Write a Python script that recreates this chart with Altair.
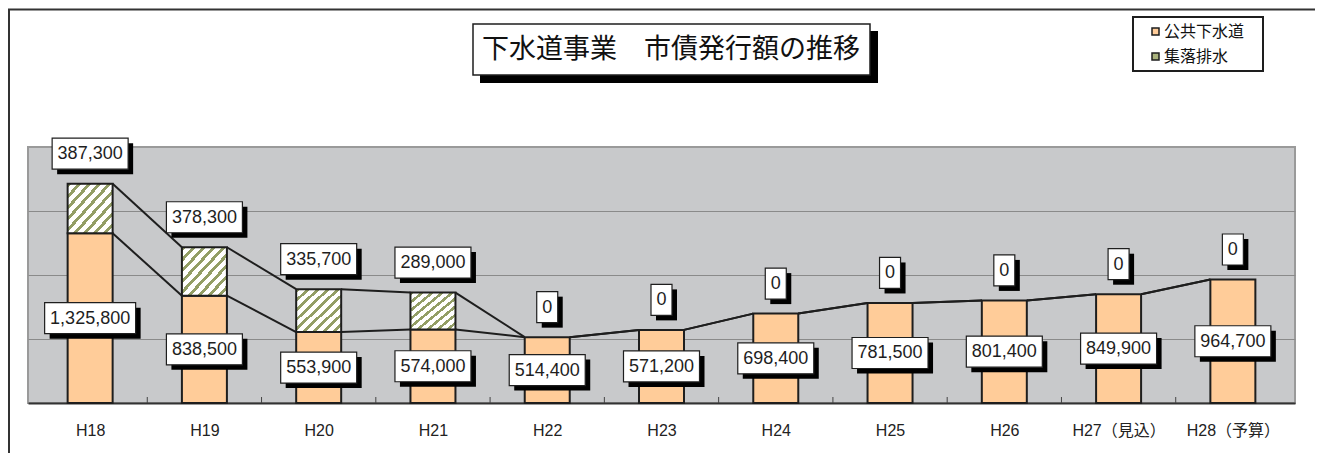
import json
import altair as alt
import pandas as pd

# ---------------- data ----------------
categories = ["H18", "H19", "H20", "H21", "H22", "H23", "H24", "H25", "H26", "H27（見込）", "H28（予算）"]
koukyou = [1325800, 838500, 553900, 574000, 514400, 571200, 698400, 781500, 801400, 849900, 964700]
shuraku = [387300, 378300, 335700, 289000, 0, 0, 0, 0, 0, 0, 0]
series_names = ["公共下水道", "集落排水"]
chart_title = "下水道事業　市債発行額の推移"
y_max = 2000000
grid_values = [500000, 1000000, 1500000]

# ---------------- style ----------------
W, H = 1267, 256
BAR_W = 45
FONT_JP = "Noto Sans CJK JP"
FONT_NUM = "Liberation Sans"
FONT_AXIS = "Liberation Sans, Noto Sans CJK JP"
LABEL_FS = 18
ORANGE = "#FFCC99"
GREEN = "#939E66"
INK = "#1E1E1E"
TOP_LABEL_OFF = -30

n = len(categories)
df = pd.DataFrame({"idx": list(range(n)), "cat": categories, "v1": koukyou, "v2": shuraku})
df["top"] = df["v1"] + df["v2"]
df["mid1"] = df["v1"] / 2


def box_path(text):
    w = sum(0.278 if ch == "," else 0.556 for ch in text) * LABEL_FS + 11
    h = 31
    return f"M{-w/2:.1f},{-h/2:.1f}H{w/2:.1f}V{h/2:.1f}H{-w/2:.1f}Z"


df["lab1"] = [f"{v:,}" for v in koukyou]
df["lab2"] = [f"{v:,}" for v in shuraku]
df["box1"] = df["lab1"].map(box_path)
df["box2"] = df["lab2"].map(box_path)

seg = pd.DataFrame({
    "a": df["idx"].values[:-1], "b": df["idx"].values[1:],
    "y1a": df["v1"].values[:-1], "y1b": df["v1"].values[1:],
    "yta": df["top"].values[:-1], "ytb": df["top"].values[1:],
})
bounds = pd.DataFrame({"b": [i + 0.5 for i in range(n - 1)]})

# ---------------- scales / axes ----------------
xscale = alt.Scale(domain=[-0.5, n - 0.5], nice=False, zero=False)
xaxis = alt.Axis(values=list(range(n)),
                 labelExpr=f"{json.dumps(categories, ensure_ascii=False)}[datum.value]",
                 title=None, ticks=False, grid=False, domainColor="#333333", domainWidth=2,
                 labelFont=FONT_AXIS, labelFontSize=16, labelColor="#222222", labelPadding=19,
                 labelFlush=False, labelOverlap=False)
yscale = alt.Scale(domain=[0, y_max], nice=False)
yaxis = alt.Axis(values=grid_values, labels=False, ticks=False, domain=False, grid=True,
                 gridColor="#8A8A8A", gridWidth=1, title=None)


def X(f):
    return alt.X(f"{f}:Q", scale=xscale, axis=xaxis)


def Y(f):
    return alt.Y(f"{f}:Q", scale=yscale, axis=yaxis)


# green diagonal hatch via striped gradient
stops = []
periods = 9
for k in range(periods):
    s = round(k / periods, 4)
    m = round(s + 0.4 / periods, 4)
    e = round((k + 1) / periods, 4)
    stops += [{"offset": s, "color": GREEN}, {"offset": m, "color": GREEN},
              {"offset": m, "color": "#FFFFFF"}, {"offset": e, "color": "#FFFFFF"}]
hatch = {"gradient": "linear", "x1": 0, "y1": 0, "x2": 1, "y2": 1, "stops": stops}

base = alt.Chart(df)

bars1 = base.mark_bar(size=BAR_W, fill=ORANGE, stroke=INK, strokeWidth=2, orient="vertical").encode(
    x=X("idx"), y=Y("v1"), y2=alt.datum(0))
bars2 = alt.Chart(df[df["v2"] > 0]).mark_bar(size=BAR_W, fill=hatch, stroke=INK, strokeWidth=2,
                                             orient="vertical").encode(
    x=X("idx"), y=Y("top"), y2="v1")

lines1 = alt.Chart(seg).mark_rule(stroke=INK, strokeWidth=2, xOffset=BAR_W / 2, x2Offset=-BAR_W / 2).encode(
    x=X("a"), x2="b", y=Y("y1a"), y2="y1b")
lines2 = alt.Chart(seg).mark_rule(stroke=INK, strokeWidth=2, xOffset=BAR_W / 2, x2Offset=-BAR_W / 2).encode(
    x=X("a"), x2="b", y=Y("yta"), y2="ytb")

ticks = alt.Chart(bounds).mark_rule(stroke="#444444", strokeWidth=1).encode(
    x=X("b"), y=alt.value(H - 6), y2=alt.value(H))


def label_layers(yfield, boxfield, textfield, yoff):
    shadow = base.mark_point(filled=True, color="#000000", size=4, opacity=1,
                             xOffset=5, yOffset=yoff + 5).encode(
        x=X("idx"), y=Y(yfield), shape=alt.Shape(f"{boxfield}:N", scale=None, legend=None))
    box = base.mark_point(filled=True, color="#FFFFFF", stroke=INK, strokeWidth=1.2, size=4, opacity=1,
                          yOffset=yoff).encode(
        x=X("idx"), y=Y(yfield), shape=alt.Shape(f"{boxfield}:N", scale=None, legend=None))
    txt = base.mark_text(font=FONT_NUM, fontSize=LABEL_FS, color=INK, baseline="middle", align="center",
                         yOffset=yoff + 0.5).encode(
        x=X("idx"), y=Y(yfield), text=f"{textfield}:N")
    return [shadow, box, txt]


labels1 = label_layers("mid1", "box1", "lab1", 0)
labels2 = label_layers("top", "box2", "lab2", TOP_LABEL_OFF)

# ---------------- title box ----------------
tdf = alt.Chart(pd.DataFrame({"t": [chart_title]}))
title_shadow = tdf.mark_rect(fill="#000000").encode(
    x=alt.value(452), x2=alt.value(850), y=alt.value(-116), y2=alt.value(-64))
title_box = tdf.mark_rect(fill="#FFFFFF", stroke=INK, strokeWidth=1.5).encode(
    x=alt.value(445), x2=alt.value(842), y=alt.value(-123), y2=alt.value(-72))
title_text = tdf.mark_text(font=FONT_JP, fontSize=27, color="#111111", align="center", baseline="middle").encode(
    x=alt.value(643), y=alt.value(-97), text="t:N")

# ---------------- legend ----------------
legend_layers = []
ldf = alt.Chart(pd.DataFrame({"s": series_names}))
legend_layers.append(ldf.mark_rect(fill="#FFFFFF", stroke=INK, strokeWidth=2).encode(
    x=alt.value(1105), x2=alt.value(1235), y=alt.value(-130), y2=alt.value(-76)))
for i, (name, col) in enumerate(zip(series_names, [ORANGE, "#A9B27C"])):
    ly = -115.5 + i * 25
    one = alt.Chart(pd.DataFrame({"s": [name]}))
    legend_layers.append(one.mark_rect(fill=col, stroke=INK, strokeWidth=1.5).encode(
        x=alt.value(1124), x2=alt.value(1131), y=alt.value(ly - 3.5), y2=alt.value(ly + 3.5)))
    legend_layers.append(one.mark_text(font=FONT_JP, fontSize=16, color="#111111", align="left",
                                       baseline="middle").encode(
        x=alt.value(1136), y=alt.value(ly), text="s:N"))

# ---------------- outer frame ----------------
frame_top = tdf.mark_rule(stroke="#333333", strokeWidth=2).encode(
    x=alt.value(-20), x2=alt.value(W + 20), y=alt.value(-137.5))
frame_left = tdf.mark_rule(stroke="#333333", strokeWidth=2).encode(
    x=alt.value(-19), y=alt.value(-137.5), y2=alt.value(H + 50))

chart = alt.layer(
    bars1, bars2, lines1, lines2, ticks,
    *labels1, *labels2,
    title_shadow, title_box, title_text,
    *legend_layers,
    frame_top, frame_left,
).properties(
    width=W, height=H,
    padding={"left": 20, "top": 139, "right": 20, "bottom": 50},
    autosize=alt.AutoSizeParams(type="none"),
).configure_view(fill="#C8C9CB", stroke="#9A9A9A", strokeWidth=2)

chart.save("out.html", embed_options={"renderer": "svg", "actions": False})
